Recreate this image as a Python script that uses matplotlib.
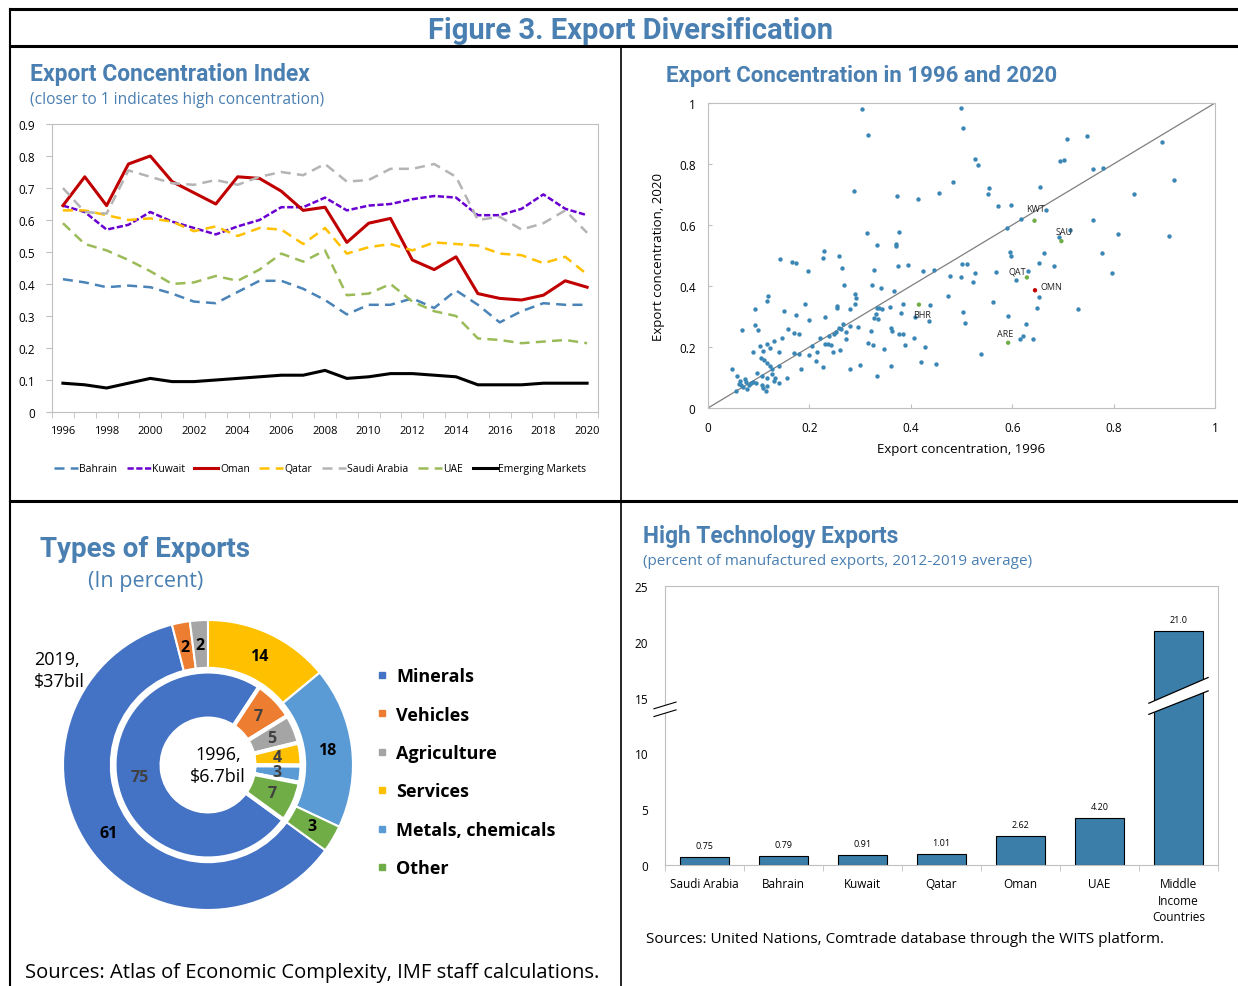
import numpy as np
import matplotlib
matplotlib.use('Agg')
import matplotlib.pyplot as plt
from matplotlib.lines import Line2D
from matplotlib.patches import Polygon

plt.rcParams['font.family'] = ['Open Sans', 'DejaVu Sans']

# ---------------- data ----------------
years = list(range(1996, 2021))
bahrain = [0.415, 0.405, 0.39, 0.395, 0.39, 0.37, 0.345, 0.34, 0.375, 0.41, 0.41, 0.385, 0.35,
           0.305, 0.335, 0.335, 0.355, 0.325, 0.38, 0.335, 0.28, 0.315, 0.34, 0.335, 0.335]
kuwait = [0.645, 0.625, 0.57, 0.585, 0.625, 0.595, 0.575, 0.555, 0.58, 0.60, 0.64, 0.64, 0.67,
          0.63, 0.645, 0.65, 0.665, 0.675, 0.67, 0.615, 0.615, 0.635, 0.68, 0.635, 0.615]
oman = [0.645, 0.735, 0.645, 0.775, 0.80, 0.72, 0.685, 0.65, 0.735, 0.73, 0.69, 0.63, 0.64,
        0.53, 0.59, 0.605, 0.475, 0.445, 0.485, 0.37, 0.355, 0.35, 0.365, 0.41, 0.39]
qatar = [0.63, 0.63, 0.615, 0.60, 0.605, 0.595, 0.565, 0.58, 0.55, 0.575, 0.57, 0.525, 0.575,
         0.495, 0.515, 0.525, 0.505, 0.53, 0.525, 0.52, 0.495, 0.49, 0.465, 0.485, 0.43]
saudi = [0.70, 0.625, 0.62, 0.755, 0.735, 0.715, 0.71, 0.725, 0.71, 0.735, 0.75, 0.74, 0.775,
         0.72, 0.725, 0.76, 0.76, 0.775, 0.735, 0.60, 0.61, 0.57, 0.59, 0.63, 0.56]
uae = [0.59, 0.525, 0.505, 0.475, 0.44, 0.40, 0.405, 0.425, 0.41, 0.445, 0.495, 0.47, 0.505,
       0.365, 0.37, 0.40, 0.345, 0.315, 0.30, 0.23, 0.225, 0.215, 0.22, 0.225, 0.215]
emerging = [0.09, 0.085, 0.075, 0.09, 0.105, 0.095, 0.095, 0.10, 0.105, 0.11, 0.115, 0.115, 0.13,
            0.105, 0.11, 0.12, 0.12, 0.115, 0.11, 0.085, 0.085, 0.085, 0.09, 0.09, 0.09]

# export concentration, 1996 vs 2020 (all countries)
conc_1996 = [0.304, 0.499, 0.315, 0.502, 0.527, 0.532, 0.709, 0.748, 0.895, 0.695, 0.703, 0.759,
             0.779, 0.919, 0.484, 0.288, 0.373, 0.414, 0.455, 0.555, 0.553, 0.655, 0.840, 0.572,
             0.597, 0.617, 0.666, 0.589, 0.759, 0.714, 0.693, 0.808, 0.909, 0.313, 0.376, 0.334,
             0.371, 0.371, 0.229, 0.259, 0.227, 0.142, 0.166, 0.174, 0.197, 0.264, 0.328, 0.374,
             0.395, 0.425, 0.446, 0.596, 0.598, 0.662, 0.501, 0.510, 0.652, 0.682, 0.778, 0.797,
             0.568, 0.527, 0.631, 0.608, 0.478, 0.499, 0.523, 0.269, 0.323, 0.342, 0.366, 0.652,
             0.563, 0.648, 0.729, 0.473, 0.119, 0.117, 0.289, 0.292, 0.289, 0.191, 0.254, 0.254,
             0.281, 0.150, 0.093, 0.174, 0.334, 0.338, 0.343, 0.358, 0.327, 0.336, 0.332, 0.384,
             0.380, 0.409, 0.437, 0.435, 0.502, 0.506, 0.592, 0.627, 0.621, 0.615, 0.642, 0.538,
             0.199, 0.230, 0.093, 0.099, 0.068, 0.158, 0.170, 0.180, 0.145, 0.131, 0.116, 0.102,
             0.123, 0.109, 0.089, 0.140, 0.170, 0.180, 0.200, 0.206, 0.220, 0.230, 0.236, 0.242,
             0.215, 0.246, 0.214, 0.226, 0.261, 0.239, 0.248, 0.253, 0.258, 0.263, 0.267, 0.272,
             0.273, 0.280, 0.296, 0.322, 0.315, 0.326, 0.347, 0.361, 0.363, 0.377, 0.385, 0.388,
             0.407, 0.428, 0.421, 0.449, 0.299, 0.281, 0.334, 0.360, 0.183, 0.117, 0.123, 0.126,
             0.140, 0.127, 0.117, 0.132, 0.130, 0.140, 0.155, 0.105, 0.111, 0.096, 0.107, 0.106,
             0.117, 0.114, 0.108, 0.048, 0.058, 0.073, 0.063, 0.075, 0.061, 0.065, 0.070, 0.055,
             0.077, 0.089, 0.095, 0.084, 0.081]
conc_2020 = [0.980, 0.985, 0.894, 0.918, 0.816, 0.798, 0.881, 0.893, 0.871, 0.811, 0.813, 0.784,
             0.787, 0.746, 0.741, 0.710, 0.695, 0.685, 0.706, 0.722, 0.702, 0.726, 0.703, 0.663,
             0.666, 0.620, 0.648, 0.591, 0.618, 0.583, 0.561, 0.572, 0.565, 0.573, 0.577, 0.536,
             0.538, 0.530, 0.515, 0.499, 0.491, 0.489, 0.478, 0.476, 0.450, 0.458, 0.452, 0.465,
             0.468, 0.449, 0.454, 0.512, 0.497, 0.509, 0.473, 0.472, 0.475, 0.464, 0.508, 0.444,
             0.447, 0.443, 0.450, 0.421, 0.434, 0.430, 0.414, 0.403, 0.404, 0.395, 0.385, 0.365,
             0.348, 0.329, 0.325, 0.367, 0.367, 0.351, 0.373, 0.362, 0.342, 0.341, 0.334, 0.328,
             0.323, 0.317, 0.323, 0.306, 0.328, 0.327, 0.326, 0.330, 0.295, 0.293, 0.307, 0.340,
             0.312, 0.299, 0.337, 0.286, 0.316, 0.280, 0.301, 0.274, 0.237, 0.225, 0.225, 0.177,
             0.289, 0.300, 0.271, 0.255, 0.255, 0.258, 0.247, 0.241, 0.230, 0.221, 0.211, 0.204,
             0.196, 0.186, 0.182, 0.184, 0.181, 0.178, 0.174, 0.204, 0.231, 0.210, 0.210, 0.208,
             0.184, 0.184, 0.153, 0.133, 0.190, 0.237, 0.244, 0.249, 0.263, 0.258, 0.276, 0.226,
             0.249, 0.269, 0.267, 0.254, 0.214, 0.208, 0.193, 0.263, 0.254, 0.242, 0.243, 0.206,
             0.230, 0.199, 0.151, 0.143, 0.141, 0.129, 0.105, 0.138, 0.127, 0.147, 0.137, 0.127,
             0.137, 0.111, 0.098, 0.100, 0.090, 0.083, 0.100, 0.164, 0.156, 0.116, 0.106, 0.077,
             0.071, 0.057, 0.065, 0.127, 0.106, 0.096, 0.088, 0.086, 0.078, 0.075, 0.068, 0.057,
             0.061, 0.084, 0.081, 0.081, 0.077]
gcc_codes = ['KWT', 'SAU', 'QAT', 'OMN', 'BHR', 'ARE']
gcc_1996 = [0.644, 0.697, 0.629, 0.645, 0.416, 0.592]
gcc_2020 = [0.614, 0.547, 0.428, 0.386, 0.339, 0.214]

# types of exports (percent)
export_types = ['Minerals', 'Vehicles', 'Agriculture', 'Services', 'Metals, chemicals', 'Other']
share_2019 = [61, 2, 2, 14, 18, 3]
share_1996 = [75, 7, 5, 4, 3, 7]

# high technology exports
hitech_countries = ['Saudi Arabia', 'Bahrain', 'Kuwait', 'Qatar', 'Oman', 'UAE',
                    'Middle\nIncome\nCountries']
hitech_values = [0.75, 0.79, 0.91, 1.01, 2.62, 4.20, 21.0]
hitech_labels = ['0.75', '0.79', '0.91', '1.01', '2.62', '4.20', '21.0']

# ---------------- layout ----------------
W, H = 1238, 987
fig = plt.figure(figsize=(W / 100, H / 100), dpi=100)
blue_title = '#4a7fb1'
narrow = ['Roboto', 'DejaVu Sans']


def add_ax(x0, y0, x1, y1):
    return fig.add_axes([x0 / W, 1 - y1 / H, (x1 - x0) / W, (y1 - y0) / H])


def ftext(x, y, s, **kw):
    return fig.text(x / W, 1 - y / H, s, **kw)


def fline(x0, y0, x1, y1, lw):
    fig.add_artist(Line2D([x0 / W, x1 / W], [1 - y0 / H, 1 - y1 / H], color='black', lw=lw,
                          transform=fig.transFigure))


# frame lines
fline(10, 10, W, 10, 2.2)
fline(10, 47, W, 47, 2.2)
fline(10, 10, 10, H, 1.5)
fline(621, 47, 621, H, 1.2)
fline(10, 502, W, 502, 2.2)

ftext(630, 31, 'Figure 3. Export Diversification', ha='center', va='center', fontsize=21,
      fontweight='bold', color=blue_title, family=narrow)

# ---------------- panel 1: line chart ----------------
ftext(30, 75, 'Export Concentration Index', ha='left', va='center', fontsize=16.5,
      fontweight='bold', color=blue_title, family=narrow)
ftext(30, 100, '(closer to 1 indicates high concentration)', ha='left', va='center',
      fontsize=11.2, color=blue_title)

ax1 = add_ax(52, 125, 598, 413)
series = [
    ('Bahrain', bahrain, '#4a83b8', (0, (4, 2.5)), 1.8),
    ('Kuwait', kuwait, '#6a00d0', (0, (2.5, 1)), 1.8),
    ('Oman', oman, '#c00000', '-', 2.2),
    ('Qatar', qatar, '#ffc000', (0, (4, 2.5)), 1.8),
    ('Saudi Arabia', saudi, '#b4b4b4', (0, (4, 2.5)), 1.8),
    ('UAE', uae, '#9bbb59', (0, (4, 2.5)), 1.8),
    ('Emerging Markets', emerging, 'black', '-', 2.2),
]
for name, vals, col, ls, lw in series:
    ax1.plot(years, vals, color=col, linestyle=ls, lw=lw, label=name)
ax1.set_xlim(1995.5, 2020.5)
ax1.set_ylim(0, 0.9)
ax1.set_yticks(np.arange(0, 0.91, 0.1))
ax1.set_yticklabels(['0'] + ['%.1f' % v for v in np.arange(0.1, 0.91, 0.1)])
ax1.set_xticks(range(1996, 2021, 2))
ax1.set_xticks(np.arange(1995.5, 2021, 1), minor=True)
ax1.tick_params(axis='x', which='major', length=0, pad=9, labelsize=8)
ax1.tick_params(axis='x', which='minor', length=4, color='#bfbfbf', direction='out')
ax1.tick_params(axis='y', length=4, color='#bfbfbf', labelsize=8.5, pad=8)
for sp in ax1.spines.values():
    sp.set_color('#bfbfbf')
ax1.legend(loc='center', bbox_to_anchor=(320 / W, 1 - 470 / H), bbox_transform=fig.transFigure,
           ncol=7, frameon=False, fontsize=7.5, handlelength=2.3, handletextpad=0.15,
           columnspacing=0.9)

# ---------------- panel 2: scatter ----------------
ftext(666, 76, 'Export Concentration in 1996 and 2020', ha='left', va='center', fontsize=16,
      fontweight='bold', color=blue_title, family=narrow)
ax2 = add_ax(708, 104, 1215, 409)
ax2.plot([0, 1], [0, 1], color='#7f7f7f', lw=0.9)
ax2.scatter(conc_1996, conc_2020, s=10, color='#3a87b5', zorder=3, linewidths=0)
gcc_colors = ['#70ad47', '#70ad47', '#70ad47', '#c00000', '#70ad47', '#70ad47']
ax2.scatter(gcc_1996, gcc_2020, s=10, color=gcc_colors, zorder=4, linewidths=0)
offsets = {'KWT': (1, 9, 'center'), 'SAU': (2, 7, 'center'), 'QAT': (-7, 5, 'center'),
           'OMN': (4, 3, 'left'), 'BHR': (-4, -7, 'left'), 'ARE': (-2, 7, 'center')}
for code, xv, yv in zip(gcc_codes, gcc_1996, gcc_2020):
    dx, dy, ha = offsets[code]
    ax2.annotate(code, (xv, yv), xytext=(dx, dy), textcoords='offset points', ha=ha,
                 va='center', fontsize=6.5, color='#222222', zorder=5)
ax2.set_xlim(0, 1)
ax2.set_ylim(0, 1)
ticks = [0, 0.2, 0.4, 0.6, 0.8, 1]
ax2.set_xticks(ticks)
ax2.set_yticks(ticks)
ax2.set_xticklabels(['0', '0.2', '0.4', '0.6', '0.8', '1'])
ax2.set_yticklabels(['0', '0.2', '0.4', '0.6', '0.8', '1'])
ax2.tick_params(direction='in', length=3, color='#bfbfbf', labelsize=8.5, pad=9)
for sp in ax2.spines.values():
    sp.set_color('#bfbfbf')
ax2.set_xlabel('Export concentration, 1996', fontsize=9.5, labelpad=6)
ax2.set_ylabel('Export concentration, 2020', fontsize=9.5, labelpad=10)

# ---------------- panel 3: doughnut ----------------
ftext(40, 550, 'Types of Exports', ha='left', va='center', fontsize=20,
      fontweight='bold', color=blue_title, family=narrow)
ftext(88, 582, '(In percent)', ha='left', va='center', fontsize=15.5, color=blue_title)

type_colors = ['#4472c4', '#ed7d31', '#a5a5a5', '#ffc000', '#5b9bd5', '#70ad47']
ax3 = add_ax(63, 621, 353, 911)
first_angle = 90 - 126
w_out, _ = ax3.pie(share_2019, radius=1.0, colors=type_colors, startangle=first_angle,
                   counterclock=False, wedgeprops=dict(width=0.33, edgecolor='white', lw=1.5))
w_in, _ = ax3.pie(share_1996, radius=0.645, colors=type_colors, startangle=first_angle,
                  counterclock=False, wedgeprops=dict(width=0.325, edgecolor='white', lw=3))
for wedges, vals, r, col in [(w_out, share_2019, 0.83, 'black'), (w_in, share_1996, 0.48, '#404040')]:
    for wd, v in zip(wedges, vals):
        ang = np.deg2rad((wd.theta1 + wd.theta2) / 2)
        ax3.text(r * np.cos(ang), r * np.sin(ang), str(v), ha='center', va='center',
                 fontsize=11.5, fontweight='bold', color=col)
ax3.text(0.07, 0.0, '1996,\n$6.7bil', ha='center', va='center', fontsize=13, linespacing=1.3)
ax3.set_xlim(-1, 1)
ax3.set_ylim(-1, 1)
ax3.set_aspect('equal')
ax3.axis('off')
ftext(34, 671, '2019,\n$37bil', ha='left', va='center', fontsize=13, linespacing=1.3)

handles = [Line2D([], [], marker='s', linestyle='none', markersize=4.5, color=c)
           for c in type_colors]
fig.legend(handles, export_types, loc='upper left', bbox_to_anchor=(360 / W, 1 - 652 / H),
           frameon=False, prop=dict(size=13, weight='bold'), handlelength=0.6,
           handletextpad=0.5, labelspacing=1.13)

ftext(25, 973, 'Sources: Atlas of Economic Complexity, IMF staff calculations.', ha='left',
      va='center', fontsize=14.5)

# ---------------- panel 4: bar chart ----------------
ftext(643, 537, 'High Technology Exports', ha='left', va='center', fontsize=16.3,
      fontweight='bold', color=blue_title, family=narrow)
ftext(643, 562, '(percent of manufactured exports, 2012-2019 average)', ha='left',
      va='center', fontsize=11, color=blue_title)

ax4 = add_ax(665, 587, 1218, 866)
xpos = np.arange(len(hitech_values))
bar_w = 0.63
bars = ax4.bar(xpos, hitech_values, width=bar_w, color='#3b7ea9', edgecolor='black', lw=0.8)
for b, lab in zip(bars, hitech_labels):
    ax4.annotate(lab, (b.get_x() + b.get_width() / 2, b.get_height()), xytext=(0, 5),
                 textcoords='offset points', ha='center', va='bottom', fontsize=6.5)
ax4.set_xlim(-0.5, len(hitech_values) - 0.5)
ax4.set_ylim(0, 25)
ax4.set_yticks([0, 5, 10, 15, 20, 25])
ax4.set_xticks(xpos)
ax4.set_xticklabels(hitech_countries, fontsize=8.5, linespacing=1.35)
ax4.set_xticks(np.arange(-0.5, len(hitech_values), 1), minor=True)
ax4.tick_params(axis='x', which='major', length=0, pad=9)
ax4.tick_params(axis='x', which='minor', length=4, color='#bfbfbf')
ax4.tick_params(axis='y', length=0, labelsize=8.5, pad=12)
for sp in ax4.spines.values():
    sp.set_color('#bfbfbf')

# axis break marks on the y-axis
brk = ax4.get_yaxis_transform()
ax4.add_patch(Polygon([(-0.02, 13.3), (0.02, 13.9), (0.02, 14.6), (-0.02, 14.0)],
                      closed=True, facecolor='white', edgecolor='none', transform=brk,
                      clip_on=False, zorder=5))
for y0 in (13.3, 14.0):
    ax4.plot([-0.02, 0.02], [y0, y0 + 0.6], color='black', lw=0.8, transform=brk,
             clip_on=False, zorder=6)

# break on the tallest bar
big = bars[-1]
bx0 = big.get_x() - 0.06
bx1 = big.get_x() + big.get_width() + 0.06
ax4.add_patch(Polygon([(bx0, 13.5), (bx1, 15.6), (bx1, 16.8), (bx0, 14.5)], closed=True,
                      facecolor='white', edgecolor='none', zorder=5))
for ya, yb in [(13.5, 15.6), (14.5, 16.8)]:
    ax4.plot([bx0, bx1], [ya, yb], color='black', lw=0.9, zorder=6)

ftext(646, 940, 'Sources: United Nations, Comtrade database through the WITS platform.',
      ha='left', va='center', fontsize=11)

fig.savefig('out.png', dpi=100)
